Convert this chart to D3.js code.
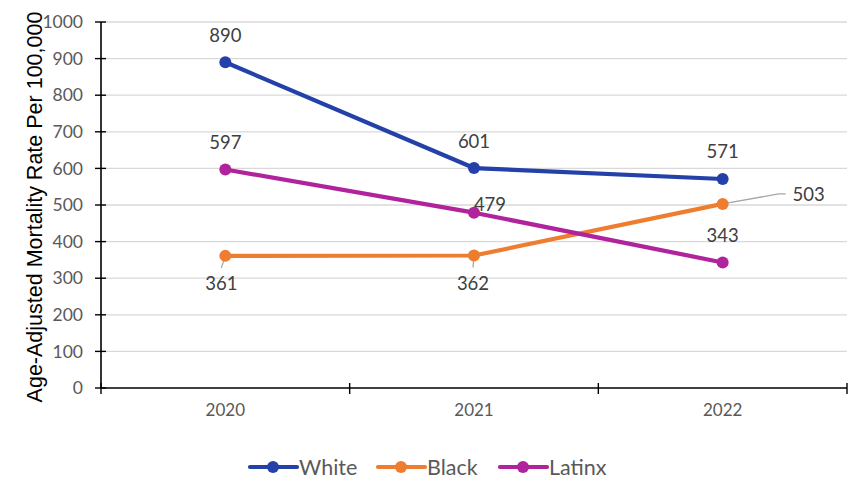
<!DOCTYPE html>
<html><head><meta charset="utf-8">
<script src="https://cdn.jsdelivr.net/npm/d3@7"></script>
<style>
html,body{margin:0;padding:0;background:#fff;}
svg{display:block;}
</style></head>
<body>
<svg id="chart" width="850" height="481"></svg>
<script>
const years = ["2020", "2021", "2022"];
const seriesNames = ["White", "Black", "Latinx"];
const whiteValues = [890, 601, 571];
const blackValues = [361, 362, 503];
const latinxValues = [597, 479, 343];
const yTicks = [0, 100, 200, 300, 400, 500, 600, 700, 800, 900, 1000];
const yTitle = "Age-Adjusted Mortality Rate Per 100,000";

const colors = {White: "#2341a8", Black: "#ee7d30", Latinx: "#b0239c"};
const series = [
  {name: "White", values: whiteValues},
  {name: "Black", values: blackValues},
  {name: "Latinx", values: latinxValues}
];
// label placement (dx, dy from point; leader polyline in offsets)
const labelPlacement = {
  White: [{dx: 0, dy: -27}, {dx: 0, dy: -27}, {dx: 0, dy: -27}],
  Black: [{dx: -4, dy: 28, leader: [[0,0],[-4,12]]}, {dx: -1, dy: 28, leader: [[0,0],[-1,12]]}, {dx: 86, dy: -9, leader: [[0,0],[56,-10],[63,-10]]}],
  Latinx: [{dx: 0, dy: -27}, {dx: 16, dy: -8}, {dx: 0, dy: -27}]
};

const svg = d3.select("#chart");
const mLeft = 101, mRight = 847, mTop = 22, mBottom = 388;
const x = d3.scaleBand().domain(years).range([mLeft, mRight]).padding(0);
const y = d3.scaleLinear().domain([0, 1000]).range([mBottom, mTop]);
const cx = d => x(d) + x.bandwidth() / 2;
const font = "Lato, 'Open Sans', sans-serif";

// gridlines
svg.append("g").selectAll("line").data(yTicks.filter(t => t > 0)).join("line")
  .attr("x1", mLeft).attr("x2", mRight)
  .attr("y1", d => y(d)).attr("y2", d => y(d))
  .attr("stroke", "#d9d9d9").attr("stroke-width", 1.3);

// y axis
const yAxis = svg.append("g").attr("transform", `translate(${mLeft},0)`)
  .call(d3.axisLeft(y).tickValues(yTicks).tickFormat(d3.format("d")).tickSize(0).tickPadding(18));
yAxis.select(".domain").remove();
yAxis.selectAll("text").attr("font-family", font).attr("font-size", 17.5).attr("fill", "#595959");
svg.append("line").attr("x1", mLeft).attr("x2", mLeft).attr("y1", y(1000)).attr("y2", y(0))
  .attr("stroke", "#000").attr("stroke-width", 1.6);
svg.append("g").selectAll("line").data(yTicks).join("line")
  .attr("x1", mLeft - 6).attr("x2", mLeft + 5)
  .attr("y1", d => y(d)).attr("y2", d => y(d))
  .attr("stroke", "#000").attr("stroke-width", 1.4);

// x axis
const xAxis = svg.append("g").attr("transform", `translate(0,${mBottom})`)
  .call(d3.axisBottom(x).tickSize(0).tickPadding(16));
xAxis.select(".domain").remove();
xAxis.selectAll("text").attr("font-family", font).attr("font-size", 17).attr("fill", "#595959");
svg.append("line").attr("x1", mLeft).attr("x2", mRight).attr("y1", mBottom).attr("y2", mBottom)
  .attr("stroke", "#000").attr("stroke-width", 1.6);
const bounds = years.map(d => x(d)).concat([x(years[years.length - 1]) + x.bandwidth()]);
svg.append("g").selectAll("line").data(bounds).join("line")
  .attr("x1", d => d).attr("x2", d => d)
  .attr("y1", mBottom - 5).attr("y2", mBottom + 6)
  .attr("stroke", "#000").attr("stroke-width", 1.4);

// y title
svg.append("text")
  .attr("transform", `translate(42,207) rotate(-90)`)
  .attr("text-anchor", "middle")
  .attr("font-family", "'Liberation Sans', Arial, sans-serif")
  .attr("font-size", 21.5).attr("fill", "#000")
  .text(yTitle);

// lines
const line = d3.line().x((v, i) => cx(years[i])).y(v => y(v));
series.forEach(s => {
  svg.append("path").attr("d", line(s.values)).attr("fill", "none")
    .attr("stroke", colors[s.name]).attr("stroke-width", 4.2).attr("stroke-linejoin", "round");
});

// leaders
series.forEach(s => {
  s.values.forEach((v, i) => {
    const p = labelPlacement[s.name][i];
    if (p.leader) {
      svg.append("polyline")
        .attr("points", p.leader.map(q => [cx(years[i]) + q[0], y(v) + q[1]].join(",")).join(" "))
        .attr("fill", "none").attr("stroke", "#a6a6a6").attr("stroke-width", 1.3);
    }
  });
});

// markers
series.forEach(s => {
  svg.append("g").selectAll("circle").data(s.values).join("circle")
    .attr("cx", (v, i) => cx(years[i])).attr("cy", v => y(v)).attr("r", 6)
    .attr("fill", colors[s.name]);
});

// labels
series.forEach(s => {
  svg.append("g").selectAll("text").data(s.values).join("text")
    .attr("x", (v, i) => cx(years[i]) + labelPlacement[s.name][i].dx)
    .attr("y", (v, i) => y(v) + labelPlacement[s.name][i].dy)
    .attr("dy", "0.35em").attr("text-anchor", "middle")
    .attr("font-family", font).attr("font-size", 18.5).attr("fill", "#404040")
    .text(v => v);
});

// legend
const legendX = [250, 378, 500];
const lg = svg.append("g");
series.forEach((s, i) => {
  const g = lg.append("g").attr("transform", `translate(${legendX[i]},467)`);
  g.append("line").attr("x1", 0).attr("x2", 47).attr("y1", 0).attr("y2", 0)
    .attr("stroke", colors[s.name]).attr("stroke-width", 4.2).attr("stroke-linecap", "round");
  g.append("circle").attr("cx", 23).attr("cy", 0).attr("r", 6).attr("fill", colors[s.name]);
  g.append("text").attr("x", 49).attr("y", 0).attr("dy", "0.35em")
    .attr("font-family", font).attr("font-size", 21.5).attr("fill", "#595959").text(s.name);
});
</script>
</body></html>
